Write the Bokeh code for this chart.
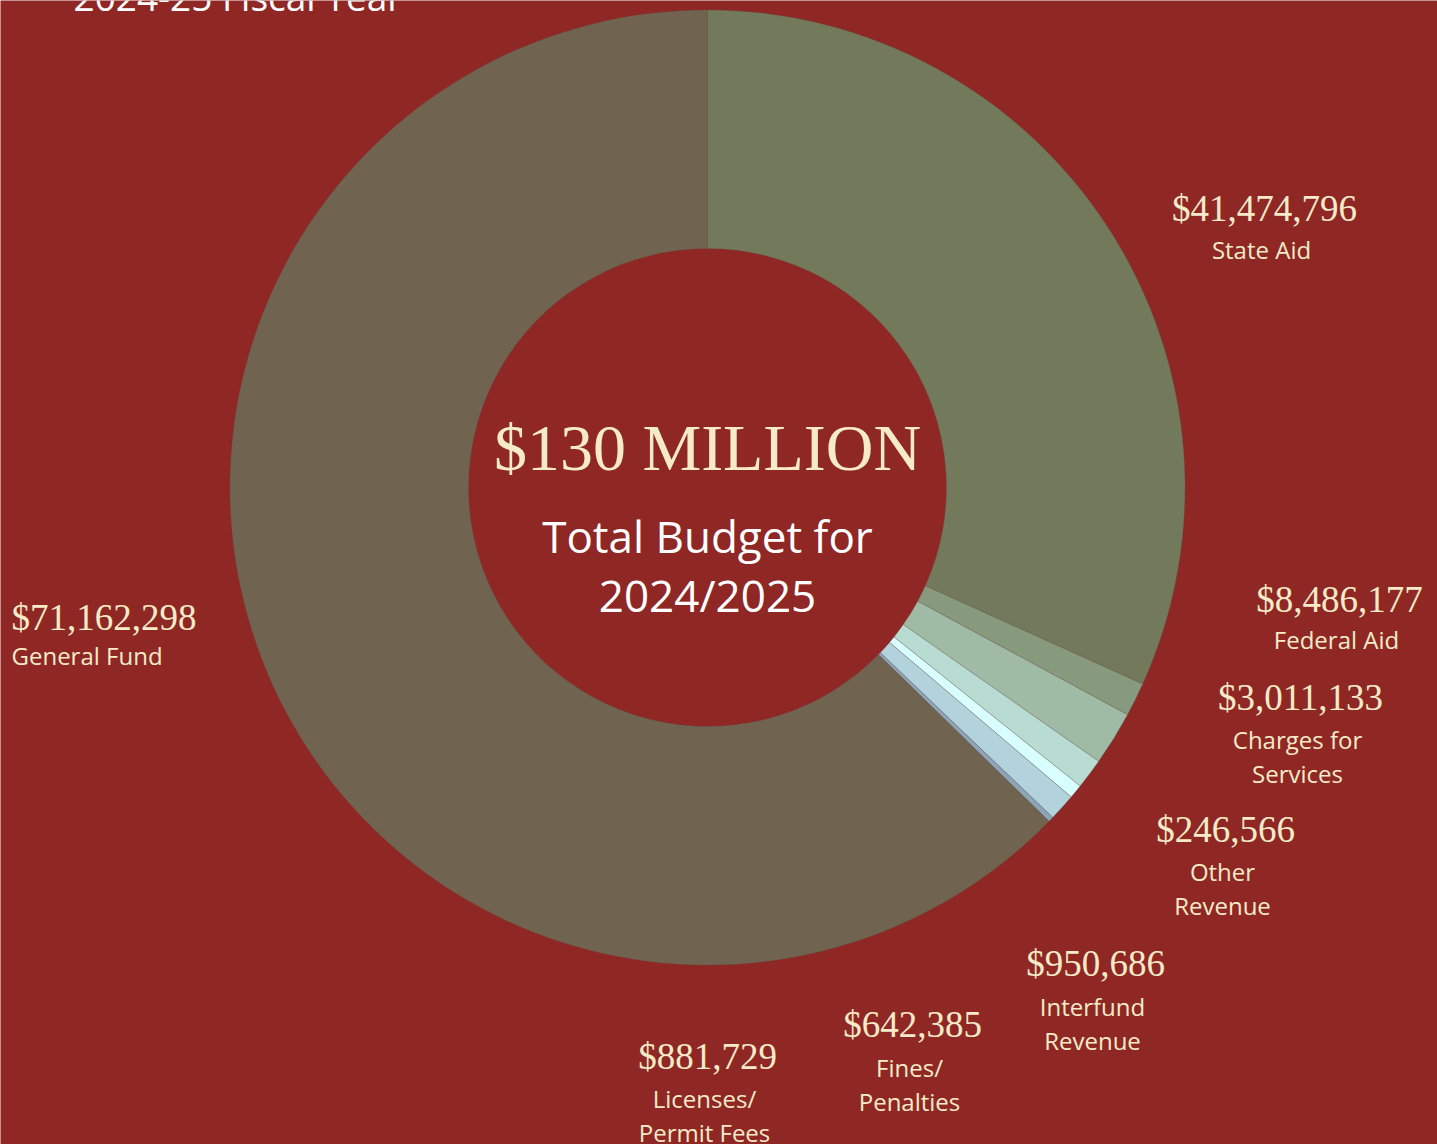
import math
from bokeh.plotting import figure
from bokeh.models import Range1d, ColumnDataSource
from bokeh.core.properties import value
from bokeh.embed import file_html
from bokeh.resources import INLINE

# ---- data ----
categories = ["State Aid", "Federal Aid", "Charges for Services", "Other Revenue",
              "Interfund Revenue", "Fines/ Penalties", "Licenses/ Permit Fees", "General Fund"]
amounts = [41474796, 8486177, 3011133, 246566, 950686, 642385, 881729, 71162298]
# slice shares (percent of circle) as drawn in the picture
shares = [31.75, 1.14, 1.83, 1.03, 0.47, 0.92, 0.18, 62.68]
colors = ["#737a5c", "#889a7d", "#9fbba6", "#b8dcd2", "#d8ffff", "#b2d2dc", "#8ca5b9", "#706450"]
label_lines = [["State Aid"], ["Federal Aid"], ["Charges for", "Services"], ["Other", "Revenue"],
               ["Interfund", "Revenue"], ["Fines/", "Penalties"], ["Licenses/", "Permit Fees"],
               ["General Fund"]]

BG = "#8f2725"
CREAM = "#f5ebc8"
W, H = 1437, 1144
OFF = 0
SANS = "Open Sans"

def X(px):
    return px - OFF

def Y(py):
    return H - (py - OFF)

p = figure(width=W, height=H, output_backend="svg", toolbar_location=None,
           x_range=Range1d(0, W), y_range=Range1d(0, H),
           background_fill_color=BG, border_fill_color=BG, min_border=0)
p.axis.visible = False
p.grid.visible = False
p.outline_line_color = None

cx, cy = X(707), Y(487)
R_out, R_in = 477.5, 239

tot = sum(shares)
starts, ends = [], []
cum = 0.0
for s in shares:
    starts.append(math.pi / 2 - cum / tot * 2 * math.pi)
    cum += s
    ends.append(math.pi / 2 - cum / tot * 2 * math.pi)

src = ColumnDataSource(dict(x=[cx] * len(shares), y=[cy] * len(shares),
                            start=starts, end=ends, color=colors))
p.annular_wedge(x="x", y="y", inner_radius=R_in, outer_radius=R_out,
                start_angle="start", end_angle="end", direction="clock",
                fill_color="color", line_color="#5a5a50", line_alpha=0.35, line_width=0.8,
                source=src)

# title (cut off at top, as in the original)
p.text(x=[X(73)], y=[Y(-4)], text=["2024-25 Fiscal Year"], text_color="white",
       text_font=value(SANS), text_font_size="37px", text_baseline="alphabetic",
       text_align="left")

# centre text
p.text(x=[cx], y=[Y(447)], text=["$130 MILLION"], text_color=CREAM,
       text_font=value("Liberation Serif"), text_font_size="66px",
       text_baseline="middle", text_align="center")
p.text(x=[cx, cx], y=[Y(535), Y(594)], text=["Total Budget for", "2024/2025"],
       text_color="white", text_font=value(SANS), text_font_size="44px",
       text_baseline="middle", text_align="center")

# label positions (value centre x, value y, first label-line y)
label_pos = [(1264, 208, 249), (1339, 599, 639), (1300, 697, 739), (1225, 829, 871),
             (1095, 963, 1006), (912, 1024, 1067), (707, 1056, 1098), (101, 617, 655)]

for i, (amt, lines) in enumerate(zip(amounts, label_lines)):
    lx, vy, ly = label_pos[i]
    left = categories[i] == "General Fund"
    ax = X(11) if left else X(lx)
    align = "left" if left else "center"
    p.text(x=[ax], y=[Y(vy)], text=["${:,}".format(amt)], text_color=CREAM,
           text_font=value("Liberation Serif"), text_font_size="37px",
           text_baseline="middle", text_align=align)
    lxl = X(11) if left else X(lx - 3)
    p.text(x=[lxl] * len(lines), y=[Y(ly + 33.5 * k) for k in range(len(lines))],
           text=lines, text_color=CREAM, text_font=value(SANS),
           text_font_size="24px", text_baseline="middle", text_align=align)

open("out.html", "w").write(file_html(p, INLINE))
